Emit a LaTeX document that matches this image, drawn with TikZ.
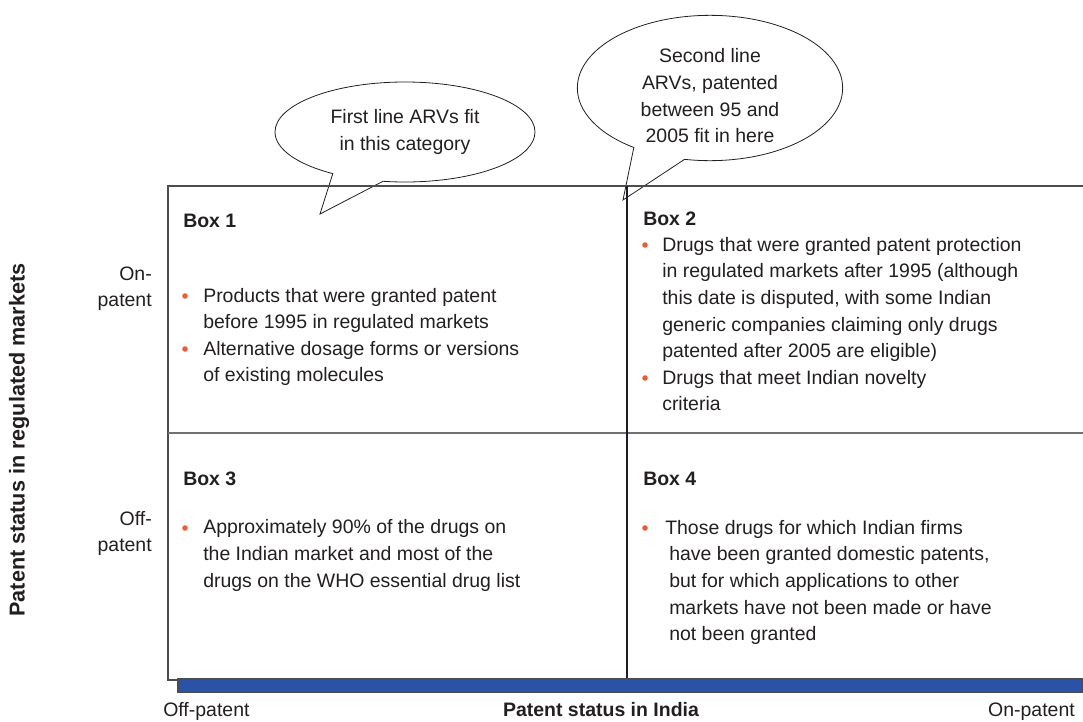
\documentclass[tikz,border=0pt]{standalone}
\usepackage{fontspec}
\setmainfont{Liberation Sans}
\usepackage{tikz}
\usetikzlibrary{shapes.callouts}

\definecolor{ink}{HTML}{231F20}
\definecolor{dotred}{HTML}{EE5A35}
\definecolor{barblue}{HTML}{2A53A7}
\definecolor{framegray}{HTML}{4D4D4D}
\definecolor{midnavy}{HTML}{1C1C2C}

\tikzset{
  txt/.style={inner sep=0pt, text=ink, font=\fontsize{14.6pt}{20pt}\selectfont, align=left},
  head/.style={txt, font=\fontsize{14.6pt}{20pt}\selectfont\bfseries},
  dot/.style={circle, fill=dotred, inner sep=0pt, minimum size=4.2pt},
  bubble/.style={ellipse callout, draw=ink, line width=0.6pt, inner sep=0pt,
    callout pointer arc=24, txt, align=center}
}

\begin{document}
\begin{tikzpicture}[x=0.75pt, y=-0.75pt]
 \useasboundingbox (0,0) rectangle (1083,722);

 % callouts (sizes in pt: 1px = 0.75pt)
 \node[bubble, minimum width=195pt, minimum height=75pt,
   callout absolute pointer={(320,214)}] (arv1) at (405,132)
   {First line ARVs fit\\in this category};
 \node[bubble, minimum width=199pt, minimum height=109pt, inner ysep=-6pt,
   callout absolute pointer={(623,200)}] (arv2) at (710,88)
   {\rule{0pt}{22.5pt}Second line\\ARVs, patented\\between 95 and\\2005 fit in here};

 % grid
 \coordinate (tl) at (168,186);
 \coordinate (bl) at (168,680);
 \coordinate (tr) at (1083,186);
 \coordinate (br) at (1083,680);
 \draw[framegray, line width=0.8pt] (tr) -- (tl) -- (bl) -- (br);
 \draw[framegray!80, line width=0.8pt] (168,433) -- (1083,433);
 \draw[midnavy, line width=1pt] (627,186) -- (627,680);
 \draw[barblue, fill=barblue, draw=framegray, line width=0.8pt] (178,679) rectangle (1083,692);

 % box 1 (base = last line)
 \node[head, anchor=base west] (box1) at (183,227) {Box 1};
 \node[dot] at (185,296) {};
 \node[txt, anchor=base west] (b1a) at (203,328.7) {Products that were granted patent\\before 1995 in regulated markets};
 \node[dot] at (185,349) {};
 \node[txt, anchor=base west] (b1b) at (203,381.7) {Alternative dosage forms or versions\\of existing molecules};

 % box 2
 \node[head, anchor=base west] (box2) at (643,225) {Box 2};
 \node[dot] at (645,245) {};
 \node[txt, anchor=base west] (b2a) at (662,357.7) {Drugs that were granted patent protection\\in regulated markets after 1995 (although\\this date is disputed, with some Indian\\generic companies claiming only drugs\\patented after 2005 are eligible)};
 \node[dot] at (645,378) {};
 \node[txt, anchor=base west] (b2b) at (662,410.7) {Drugs that meet Indian novelty\\criteria};

 % box 3
 \node[head, anchor=base west] (box3) at (183,485) {Box 3};
 \node[dot] at (185,528) {};
 \node[txt, anchor=base west] (b3a) at (203,587.3) {Approximately 90\% of the drugs on\\the Indian market and most of the\\drugs on the WHO essential drug list};

 % box 4
 \node[head, anchor=base west] (box4) at (643,485) {Box 4};
 \node[dot] at (645,528) {};
 \node[txt, anchor=base west] (b4a) at (665,640.7) {Those drugs for which Indian firms\\\hspace{3pt}have been granted domestic patents,\\\hspace{3pt}but for which applications to other\\\hspace{3pt}markets have not been made or have\\\hspace{3pt}not been granted};

 % axes
 \node[txt, align=right, anchor=base east] (onreg) at (152,306.7) {On-\\patent};
 \node[txt, align=right, anchor=base east] (offreg) at (152,551.7) {Off-\\patent};
 \node[head, font=\fontsize{16.2pt}{20pt}\selectfont\bfseries, rotate=90] (yaxis) at (19,440) {Patent status in regulated markets};
 \node[txt, anchor=base west] (offind) at (163,716) {Off-patent};
 \node[head, anchor=base] (xaxis) at (601,716) {Patent status in India};
 \node[txt, anchor=base east] (onind) at (1075,716) {On-patent};
\end{tikzpicture}
\end{document}
